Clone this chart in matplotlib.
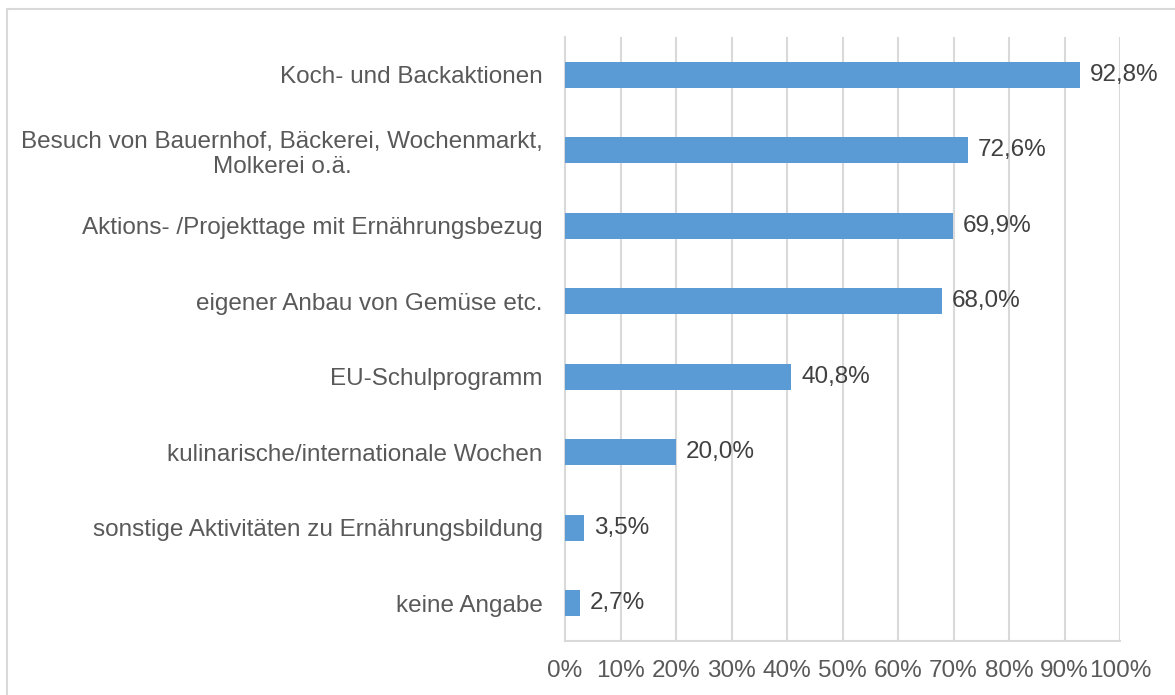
import matplotlib
matplotlib.use("Agg")
import matplotlib.pyplot as plt
from matplotlib.patches import Rectangle
from matplotlib.ticker import MultipleLocator, FuncFormatter

# ---------------------------------------------------------------------------
# Data
# ---------------------------------------------------------------------------
categories = [
    "Koch- und Backaktionen",
    "Besuch von Bauernhof, Bäckerei, Wochenmarkt,\nMolkerei o.ä.",
    "Aktions- /Projekttage mit Ernährungsbezug",
    "eigener Anbau von Gemüse etc.",
    "EU-Schulprogramm",
    "kulinarische/internationale Wochen",
    "sonstige Aktivitäten zu Ernährungsbildung",
    "keine Angabe",
]
values = [92.8, 72.6, 69.9, 68.0, 40.8, 20.0, 3.5, 2.7]

BAR_COLOR = "#5b9bd5"
GRID_COLOR = "#d9d9d9"
LABEL_COLOR = "#595959"
VALUE_COLOR = "#404040"
FS = 17.5

plt.rcParams["font.family"] = ["Liberation Sans", "DejaVu Sans"]

fig = plt.figure(figsize=(11.75, 6.95), dpi=100)
ax = fig.add_axes([565 / 1175, 1 - 641 / 695, 555 / 1175, (641 - 37) / 695])

y = list(range(len(categories)))
ax.barh(y, values, height=0.34, color=BAR_COLOR, zorder=3)
ax.set_ylim(len(categories) - 0.5, -0.5)
ax.set_xlim(0, 100)

for yi, v in zip(y, values):
    ax.annotate(f"{v:.1f}".replace(".", ",") + "%", (v, yi),
                xytext=(7, 0), textcoords="offset points",
                ha="left", va="center", fontsize=FS, color=VALUE_COLOR)

ax.set_yticks(y)
ax.set_yticklabels(categories, fontsize=FS, color=LABEL_COLOR, ha="right",
                   multialignment="center")
ax.xaxis.set_major_locator(MultipleLocator(10))
ax.xaxis.set_major_formatter(FuncFormatter(lambda x, _: f"{x:.0f}%"))
ax.tick_params(axis="x", length=0, pad=14, labelsize=FS, labelcolor=LABEL_COLOR)
ax.tick_params(axis="y", length=0, pad=16)

ax.grid(axis="x", color=GRID_COLOR, linewidth=1.5, zorder=0)
for side in ("top", "right"):
    ax.spines[side].set_visible(False)
for side in ("left", "bottom"):
    ax.spines[side].set_color(GRID_COLOR)
    ax.spines[side].set_linewidth(1.5)

# light frame around the chart (only left and top visible in crop)
fig.patches.append(Rectangle((7 / 1175, -0.05), 1.1, 1 - 9 / 695 + 0.05,
                             transform=fig.transFigure, fill=False,
                             edgecolor=GRID_COLOR, linewidth=1.5))

fig.savefig("out.png", dpi=100)
plt.close(fig)
